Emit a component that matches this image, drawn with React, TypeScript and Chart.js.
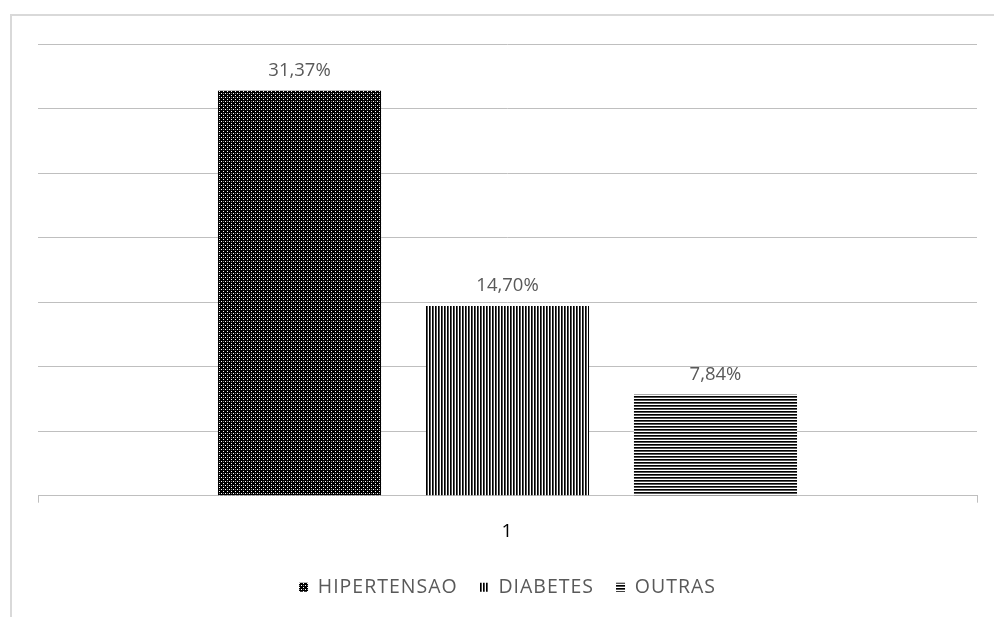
import React, { useEffect, useRef } from "react";
import { Chart, registerables } from "chart.js";

Chart.register(...registerables);

const categories = ["1"];
const seriesNames = ["HIPERTENSAO", "DIABETES", "OUTRAS"];
const hipertensao = [31.37];
const diabetes = [14.7];
const outras = [7.84];
const yTicks = { min: 0, max: 35, step: 5 };

const FONT = "'Open Sans', Lato, sans-serif";

// Small tiled fills for the hatched bars
function makePattern(kind: "grid" | "vertical" | "horizontal"): CanvasPattern | string {
  const c = document.createElement("canvas");
  const size = kind === "grid" ? 4 : 3;
  c.width = size;
  c.height = size;
  const g = c.getContext("2d");
  if (!g) return "#000";
  g.fillStyle = "#fff";
  g.fillRect(0, 0, size, size);
  g.fillStyle = "#000";
  if (kind === "grid") {
    g.fillRect(0, 0, 4, 4);
    g.fillStyle = "#fff";
    g.fillRect(1, 1, 1, 1);
    g.fillRect(3, 3, 1, 1);
    g.fillStyle = "rgba(255,255,255,0.5)";
    g.fillRect(3, 1, 1, 1);
  } else if (kind === "vertical") {
    g.fillRect(0, 0, 1, 3);
    g.fillStyle = "#555";
    g.fillRect(1, 0, 1, 3);
  } else {
    g.fillRect(0, 0, 3, 1);
    g.fillStyle = "#555";
    g.fillRect(0, 1, 3, 1);
  }
  const p = g.createPattern(c, "repeat");
  return p || "#000";
}

const fmt = (v: number) => v.toFixed(2).replace(".", ",") + "%";

// Legend lettering is slightly wider-spaced than the rest
const spacing = {
  id: "spacing",
  beforeUpdate(chart: any) {
    chart.ctx.letterSpacing = "1px";
  },
  beforeDraw(chart: any) {
    chart.ctx.letterSpacing = "1px";
  },
};

const valueLabels = {
  id: "valueLabels",
  afterDatasetsDraw(chart: any) {
    const ctx = chart.ctx;
    ctx.save();
    ctx.letterSpacing = "0px";
    ctx.fillStyle = "#595959";
    ctx.font = `18.5px ${FONT}`;
    ctx.textAlign = "center";
    ctx.textBaseline = "bottom";
    chart.data.datasets.forEach((ds: any, i: number) => {
      const meta = chart.getDatasetMeta(i);
      meta.data.forEach((bar: any, j: number) => {
        ctx.fillText(fmt(ds.data[j]), bar.x, bar.y - 11);
      });
    });
    ctx.restore();
  },
};

const frame = {
  id: "frame",
  beforeDraw(chart: any) {
    const ctx = chart.ctx;
    ctx.save();
    ctx.strokeStyle = "#d9d9d9";
    ctx.lineWidth = 2;
    ctx.strokeRect(11, 15, chart.width + 20, chart.height + 20);
    ctx.restore();
  },
};

export default function App() {
  const ref = useRef<HTMLCanvasElement | null>(null);

  useEffect(() => {
    if (!ref.current) return;
    const chart = new Chart(ref.current, {
      type: "bar",
      data: {
        labels: categories,
        datasets: [
          {
            label: seriesNames[0],
            data: hipertensao,
            backgroundColor: makePattern("grid"),
            borderWidth: 0,
          },
          {
            label: seriesNames[1],
            data: diabetes,
            backgroundColor: makePattern("vertical"),
            borderWidth: 0,
          },
          {
            label: seriesNames[2],
            data: outras,
            backgroundColor: makePattern("horizontal"),
            borderWidth: 0,
          },
        ],
      },
      options: {
        animation: false,
        responsive: false,
        maintainAspectRatio: false,
        layout: { padding: { left: 38, right: 17, top: 44, bottom: 10 } },
        datasets: { bar: { categoryPercentage: 0.6645, barPercentage: 0.784 } },
        plugins: {
          title: { display: false },
          tooltip: { enabled: false },
          legend: {
            position: "bottom",
            labels: {
              color: "#595959",
              font: { family: FONT, size: 19.5 },
              boxWidth: 9,
              boxHeight: 9,
              padding: 22,
            },
          },
        },
        scales: {
          x: {
            grid: {
              display: true,
              drawOnChartArea: false,
              drawTicks: true,
              tickLength: 7,
              color: "#bfbfbf",
              offset: true,
            },
            border: { display: true, color: "#bfbfbf" },
            ticks: {
              color: "#000",
              font: { family: FONT, size: 19 },
              padding: 17,
            },
            afterFit: (s: any) => {
              s.height -= 4;
            },
          },
          y: {
            min: yTicks.min,
            max: yTicks.max,
            ticks: { display: false, stepSize: yTicks.step },
            grid: { color: "#bfbfbf", drawTicks: false },
            border: { display: false },
            afterFit: (s: any) => {
              s.width = 0;
            },
          },
        },
      },
      plugins: [spacing, frame, valueLabels],
    });
    return () => chart.destroy();
  }, []);

  return (
    <div style={{ position: "fixed", left: 0, top: 0, width: 994, height: 617, background: "#fff" }}>
      <canvas ref={ref} width={994} height={617} style={{ width: 994, height: 617 }} />
    </div>
  );
}
